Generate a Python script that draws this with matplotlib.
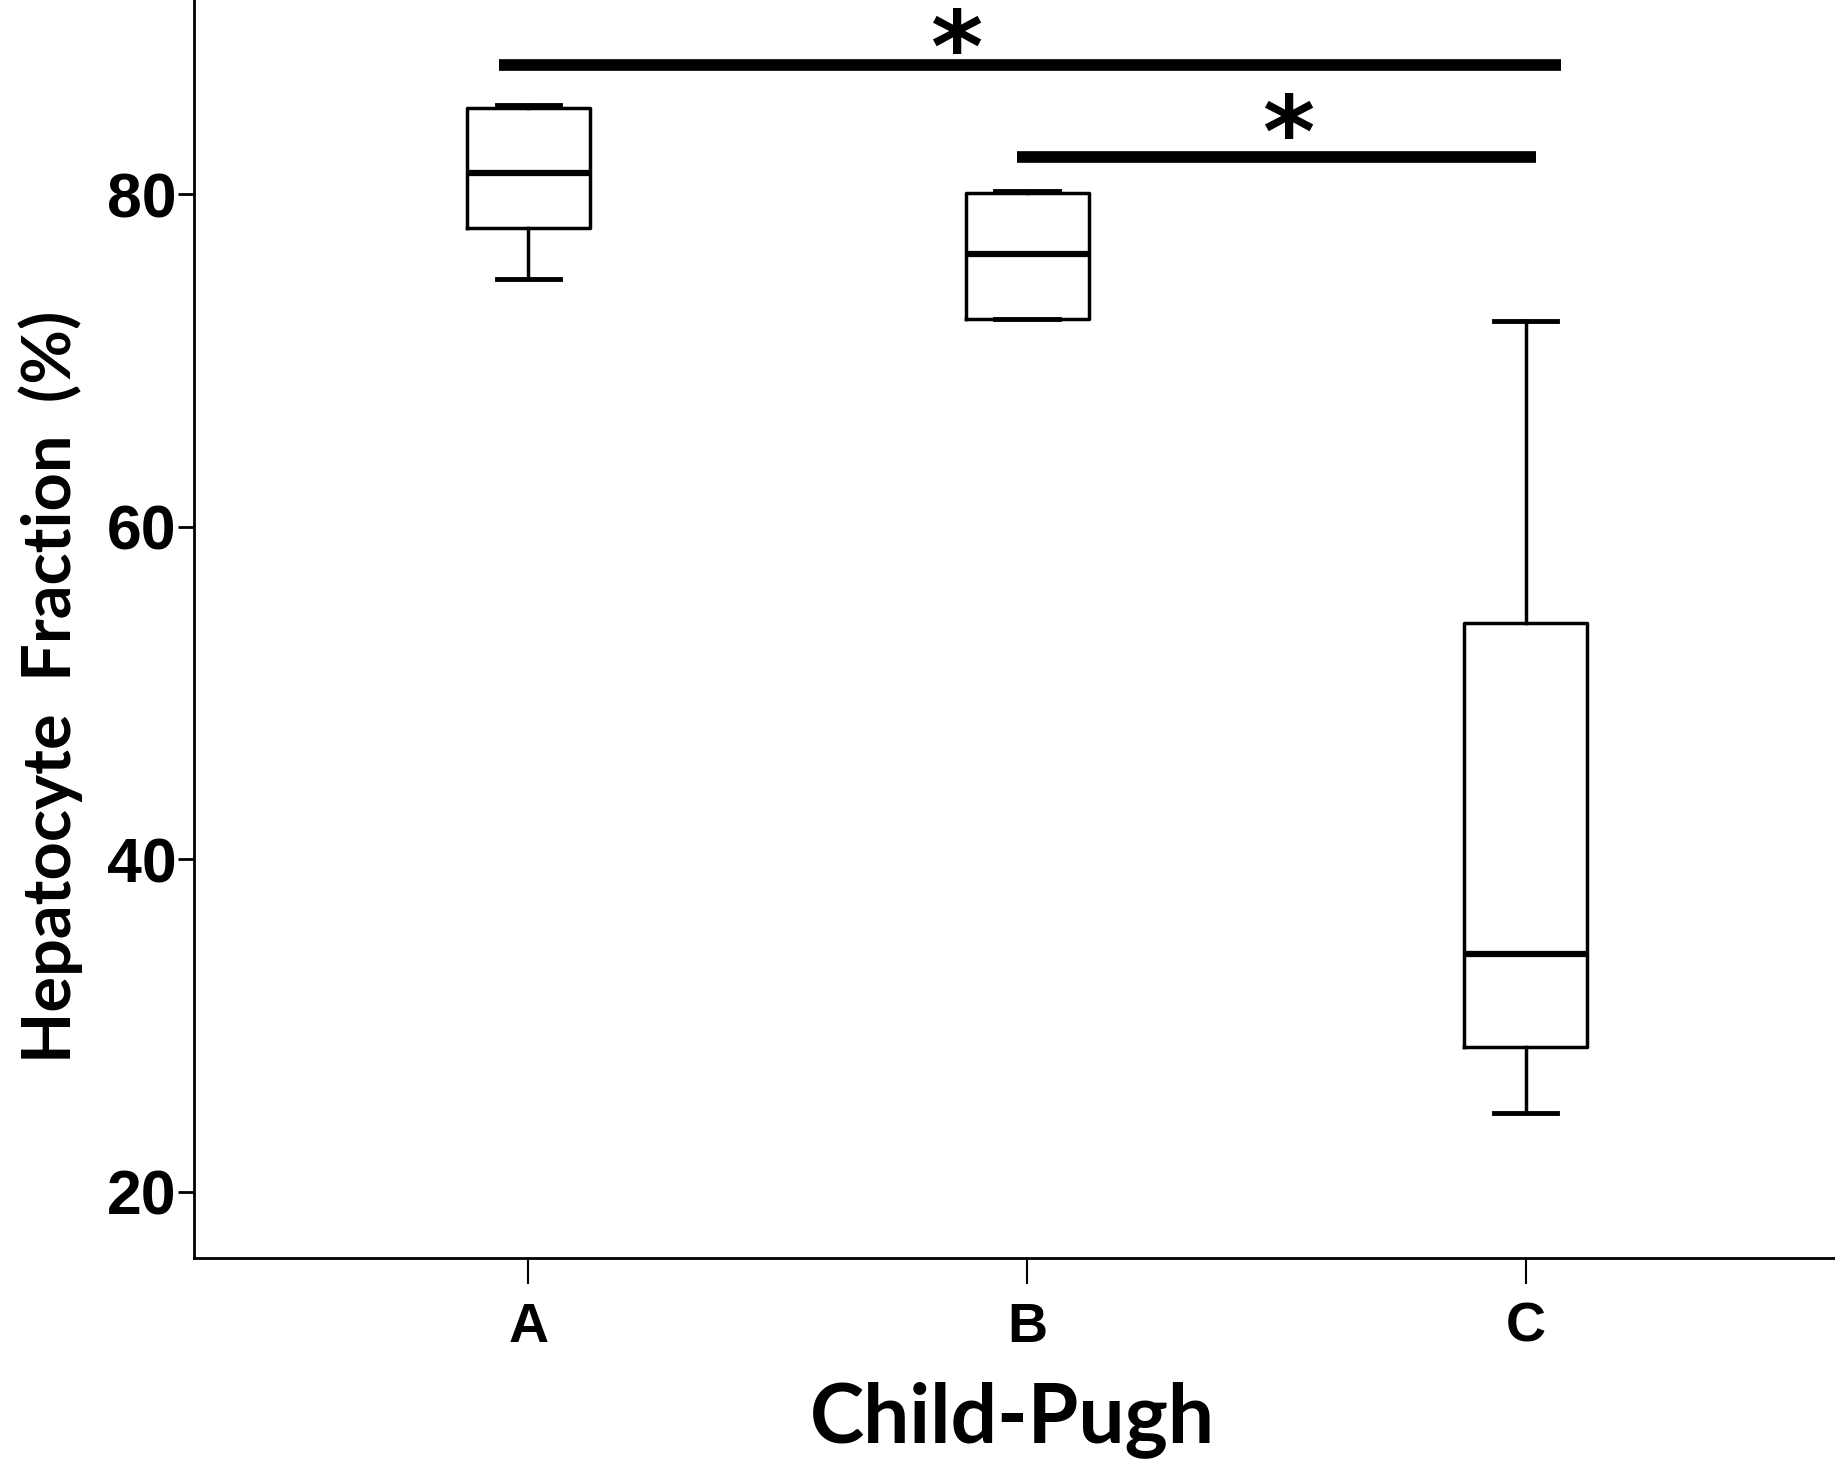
import matplotlib
matplotlib.use("Agg")
import matplotlib.pyplot as plt

# Child-Pugh groups and box statistics (hepatocyte fraction, %)
groups = ["A", "B", "C"]
whisker_low = [74.9, 72.5, 24.7]
q1 = [78.0, 72.5, 28.7]
median = [81.3, 76.4, 34.3]
q3 = [85.2, 80.1, 54.2]
whisker_high = [85.4, 80.2, 72.4]

yticks = [20, 40, 60, 80]

# significance brackets: (x start, x end, height) and star centres
sig_x0 = [0.94, 1.98]
sig_x1 = [3.07, 3.02]
sig_y = [87.8, 82.25]
star_x = [1.857, 2.523]
star_y = [89.5, 84.4]

tick_font = ["Liberation Sans", "DejaVu Sans"]
label_font = ["Lato", "DejaVu Sans"]

fig = plt.figure(figsize=(18.35, 14.64), dpi=100)
ax = fig.add_axes([0.1059, 0.1407, 0.8941, 0.8593])

stats = []
for i, g in enumerate(groups):
    stats.append({
        "label": g,
        "whislo": whisker_low[i],
        "q1": q1[i],
        "med": median[i],
        "q3": q3[i],
        "whishi": whisker_high[i],
        "fliers": [],
    })

positions = list(range(1, len(groups) + 1))
ax.bxp(
    stats,
    positions=positions,
    widths=0.247,
    capwidths=0.127,
    showfliers=False,
    patch_artist=False,
    boxprops=dict(color="black", linewidth=2.5),
    medianprops=dict(color="black", linewidth=4.5, solid_capstyle="butt"),
    whiskerprops=dict(color="black", linewidth=2.5),
    capprops=dict(color="black", linewidth=3.5),
)

for x0, x1, y in zip(sig_x0, sig_x1, sig_y):
    ax.plot([x0, x1], [y, y], color="black", linewidth=8.4, solid_capstyle="butt")
# the asterisk glyph sits high in its box, so shift the baseline down
for sx, sy in zip(star_x, star_y):
    ax.annotate("*", xy=(sx, sy), xytext=(0, -33), textcoords="offset points",
                ha="center", va="baseline", fontsize=72, fontweight="bold",
                family=["DejaVu Sans"], annotation_clip=False)

ax.set_xlim(0.33, 3.62)
ax.set_ylim(16.0, 91.7)
ax.set_yticks(yticks)
ax.set_yticklabels([str(v) for v in yticks], family=tick_font,
                   fontweight="bold", fontsize=45)
ax.set_xticks(positions)
ax.set_xticklabels(groups, family=tick_font, fontweight="bold", fontsize=40)

ax.spines["top"].set_visible(False)
ax.spines["right"].set_visible(False)
ax.spines["left"].set_linewidth(2.0)
ax.spines["bottom"].set_linewidth(2.0)
ax.tick_params(axis="y", length=11.5, width=2.0, pad=1.5)
ax.tick_params(axis="x", length=19, width=1.5, pad=12.6)

fig.text(0.0274, 0.531, "Hepatocyte  Fraction  (%)", rotation=90,
         ha="center", va="center", fontsize=48, fontweight="bold",
         family=label_font)
fig.text(0.552, 0.0152, "Child-Pugh", ha="center", va="baseline",
         fontsize=59, fontweight="bold", family=label_font)

fig.savefig("out.png", dpi=100)
plt.close(fig)
